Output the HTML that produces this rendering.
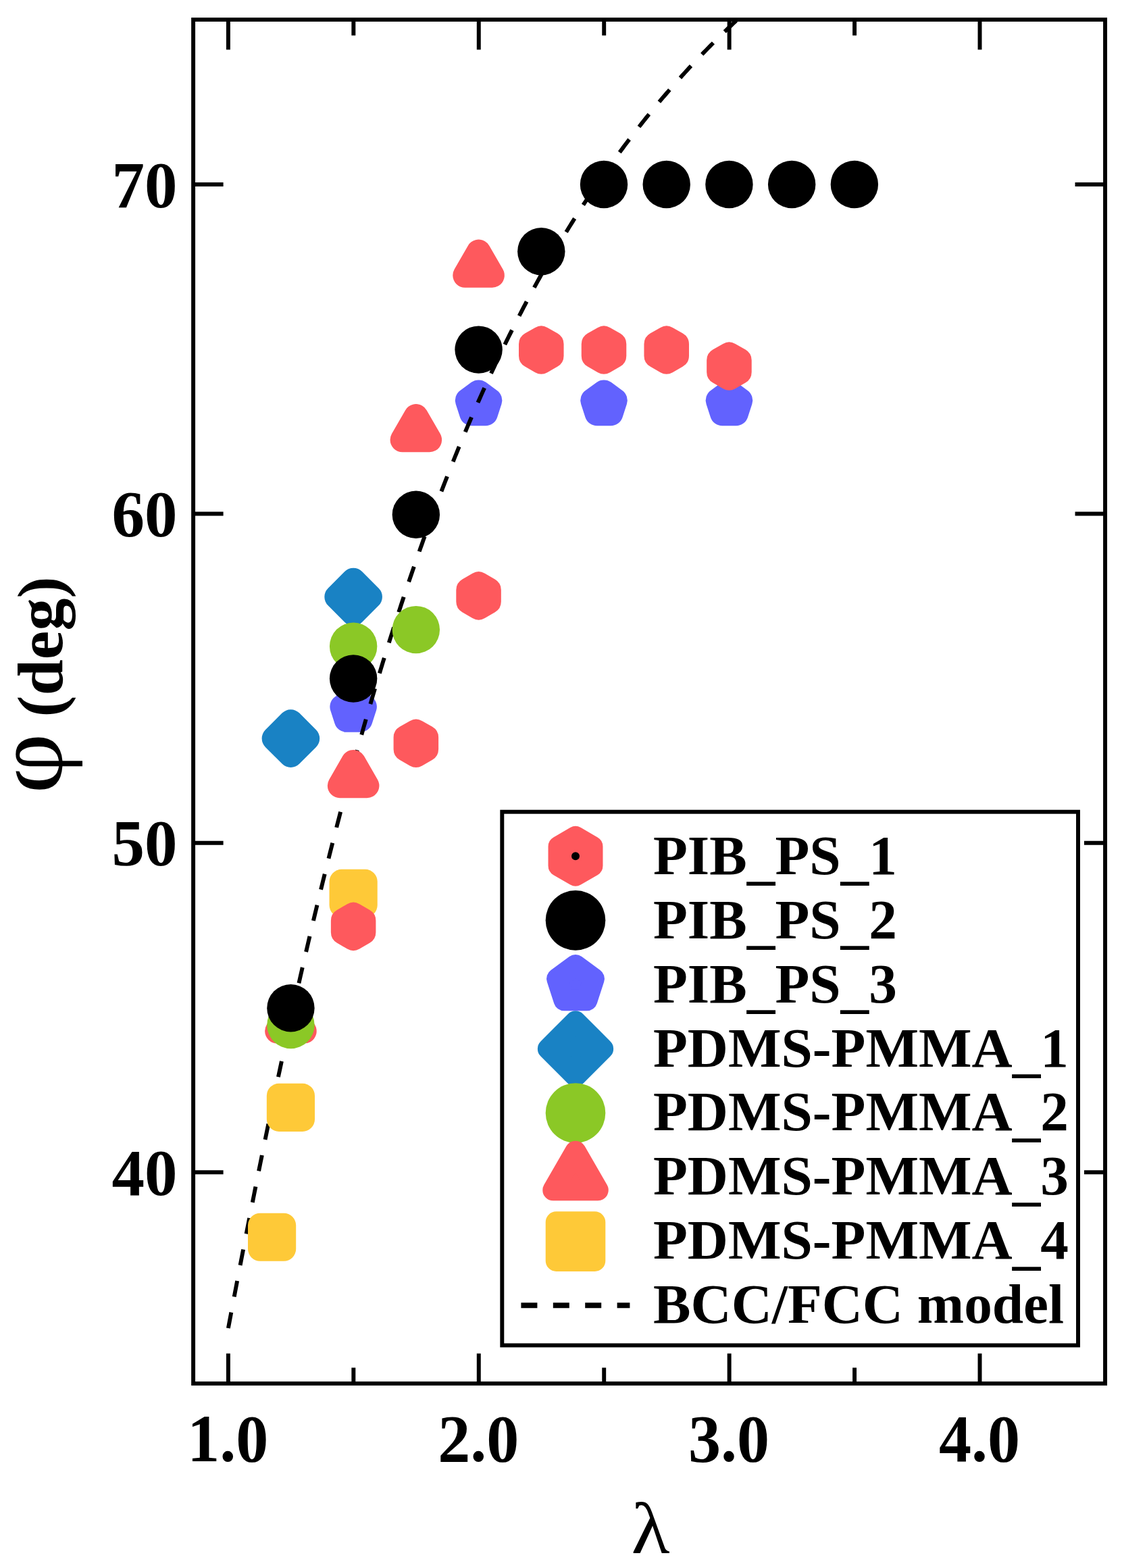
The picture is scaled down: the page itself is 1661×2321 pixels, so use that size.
<!DOCTYPE html>
<html lang="en">
<head>
<meta charset="utf-8">
<title>φ (deg) versus λ</title>
<style>
html,body{margin:0;padding:0;background:#fff;}
body{width:1661px;height:2321px;overflow:hidden;}
svg{display:block;}
</style>
</head>
<body>
<svg width="1661" height="2321" viewBox="0 0 1661 2321">
<desc>φ (deg) vs λ — PIB_PS_1, PIB_PS_2, PIB_PS_3, PDMS-PMMA_1, PDMS-PMMA_2, PDMS-PMMA_3, PDMS-PMMA_4, BCC/FCC model</desc>
<rect x="0" y="0" width="1661" height="2321" fill="#ffffff"/>
<defs><clipPath id="plotclip"><rect x="286.10" y="29.05" width="1349.95" height="2018.85"/></clipPath></defs>
<g>
<polygon points="523.13,1034.10 539.68,1046.12 533.36,1065.58 512.91,1065.58 506.59,1046.12" fill="#6262fe" stroke="#6262fe" stroke-width="36.40" stroke-linejoin="round"/>
<polygon points="708.57,580.60 725.12,592.62 718.80,612.08 698.34,612.08 692.02,592.62" fill="#6262fe" stroke="#6262fe" stroke-width="36.40" stroke-linejoin="round"/>
<polygon points="894.00,580.60 910.55,592.62 904.23,612.08 883.78,612.08 877.46,592.62" fill="#6262fe" stroke="#6262fe" stroke-width="36.40" stroke-linejoin="round"/>
<polygon points="1079.44,580.60 1095.99,592.62 1089.67,612.08 1069.21,612.08 1062.89,592.62" fill="#6262fe" stroke="#6262fe" stroke-width="36.40" stroke-linejoin="round"/>
</g>
<path d="M337.90 1966.01 L339.81 1955.86 L341.72 1945.73 L343.63 1935.62 L345.54 1925.55 L347.45 1915.50 L349.36 1905.48 L351.27 1895.49 L353.18 1885.52 L355.09 1875.59 L357.00 1865.68 L358.91 1855.80 L360.82 1845.96 L362.73 1836.14 L364.64 1826.35 L366.55 1816.59 L368.46 1806.86 L370.37 1797.17 L372.28 1787.50 L374.19 1777.87 L376.10 1768.26 L378.01 1758.69 L379.92 1749.15 L381.83 1739.64 L383.74 1730.17 L385.65 1720.72 L387.56 1711.31 L389.47 1701.93 L391.38 1692.59 L393.29 1683.27 L395.20 1673.99 L397.11 1664.75 L399.02 1655.53 L400.93 1646.36 L402.84 1637.21 L404.75 1628.10 L406.66 1619.02 L408.57 1609.97 L410.48 1600.96 L412.39 1591.99 L414.30 1583.05 L416.21 1574.14 L418.12 1565.26 L420.03 1556.43 L421.94 1547.62 L423.85 1538.85 L425.76 1530.12 L427.67 1521.42 L429.58 1512.75 L431.49 1504.12 L433.40 1495.53 L435.31 1486.97 L437.22 1478.44 L439.13 1469.95 L441.04 1461.50 L442.95 1453.08 L444.86 1444.69 L446.77 1436.34 L448.68 1428.03 L450.59 1419.75 L452.50 1411.51 L454.41 1403.30 L456.32 1395.12 L458.23 1386.98 L460.14 1378.88 L462.05 1370.81 L463.96 1362.78 L465.87 1354.78 L467.78 1346.82 L469.69 1338.89 L471.60 1330.99 L473.51 1323.14 L475.42 1315.31 L477.33 1307.52 L479.24 1299.77 L481.15 1292.05 L483.06 1284.37 L484.97 1276.72 L486.88 1269.10 L488.79 1261.52 L490.70 1253.97 L492.61 1246.46 L494.52 1238.99 L496.43 1231.54 L498.34 1224.13 L500.25 1216.76 L502.16 1209.42 L504.07 1202.11 L505.98 1194.84 L507.89 1187.60 L509.80 1180.40 L511.71 1173.23 L513.62 1166.09 L515.53 1158.98 L517.44 1151.91 L519.35 1144.88 L521.26 1137.87 L523.17 1130.90 L525.08 1123.96 L526.99 1117.06 L528.90 1110.18 L530.81 1103.34 L532.72 1096.54 L534.63 1089.76 L536.54 1083.02 L538.45 1076.31 L540.36 1069.63 L542.27 1062.99 L544.18 1056.38 L546.09 1049.79 L548.00 1043.24 L549.91 1036.73 L551.82 1030.24 L553.73 1023.78 L555.64 1017.36 L557.55 1010.97 L559.46 1004.61 L561.37 998.28 L563.28 991.98 L565.19 985.71 L567.10 979.47 L569.01 973.26 L570.92 967.08 L572.83 960.94 L574.74 954.82 L576.65 948.73 L578.56 942.67 L580.47 936.64 L582.38 930.65 L584.29 924.68 L586.20 918.74 L588.11 912.83 L590.02 906.95 L591.93 901.09 L593.84 895.27 L595.75 889.48 L597.66 883.71 L599.57 877.97 L601.48 872.26 L603.39 866.58 L605.30 860.93 L607.21 855.30 L609.12 849.71 L611.03 844.14 L612.94 838.59 L614.85 833.08 L616.76 827.59 L618.67 822.13 L620.58 816.70 L622.49 811.29 L624.40 805.91 L626.31 800.56 L628.22 795.23 L630.13 789.93 L632.04 784.66 L633.95 779.41 L635.86 774.19 L637.77 768.99 L639.68 763.82 L641.59 758.68 L643.50 753.56 L645.41 748.46 L647.32 743.39 L649.23 738.35 L651.14 733.33 L653.05 728.34 L654.96 723.37 L656.87 718.42 L658.78 713.50 L660.69 708.60 L662.60 703.73 L664.51 698.88 L666.42 694.06 L668.33 689.26 L670.24 684.48 L672.15 679.73 L674.06 675.00 L675.97 670.30 L677.88 665.61 L679.79 660.95 L681.70 656.32 L683.61 651.70 L685.52 647.11 L687.43 642.54 L689.34 637.99 L691.25 633.47 L693.16 628.97 L695.07 624.49 L696.98 620.03 L698.89 615.59 L700.80 611.18 L702.71 606.79 L704.62 602.41 L706.53 598.06 L708.44 593.73 L710.35 589.43 L712.26 585.14 L714.17 580.87 L716.08 576.63 L717.99 572.41 L719.90 568.20 L721.81 564.02 L723.72 559.86 L725.63 555.71 L727.54 551.59 L729.45 547.49 L731.36 543.40 L733.27 539.34 L735.18 535.30 L737.09 531.27 L739.00 527.27 L740.91 523.28 L742.82 519.32 L744.73 515.37 L746.64 511.44 L748.55 507.53 L750.46 503.64 L752.37 499.77 L754.28 495.92 L756.19 492.09 L758.10 488.27 L760.01 484.47 L761.92 480.69 L763.83 476.93 L765.74 473.19 L767.65 469.46 L769.56 465.75 L771.47 462.06 L773.38 458.39 L775.29 454.74 L777.20 451.10 L779.11 447.48 L781.02 443.87 L782.93 440.29 L784.84 436.72 L786.75 433.17 L788.66 429.63 L790.57 426.11 L792.48 422.61 L794.39 419.12 L796.30 415.65 L798.21 412.20 L800.12 408.76 L802.03 405.34 L803.94 401.94 L805.85 398.55 L807.76 395.17 L809.67 391.82 L811.58 388.47 L813.49 385.15 L815.40 381.84 L817.31 378.54 L819.22 375.26 L821.13 372.00 L823.04 368.75 L824.95 365.51 L826.86 362.29 L828.76 359.09 L830.67 355.90 L832.58 352.72 L834.49 349.56 L836.40 346.42 L838.31 343.28 L840.22 340.17 L842.13 337.06 L844.04 333.97 L845.95 330.90 L847.86 327.84 L849.77 324.79 L851.68 321.76 L853.59 318.74 L855.50 315.74 L857.41 312.74 L859.32 309.77 L861.23 306.80 L863.14 303.85 L865.05 300.91 L866.96 297.99 L868.87 295.08 L870.78 292.18 L872.69 289.29 L874.60 286.42 L876.51 283.56 L878.42 280.72 L880.33 277.88 L882.24 275.06 L884.15 272.25 L886.06 269.46 L887.97 266.68 L889.88 263.91 L891.79 261.15 L893.70 258.40 L895.61 255.67 L897.52 252.94 L899.43 250.23 L901.34 247.54 L903.25 244.85 L905.16 242.18 L907.07 239.51 L908.98 236.86 L910.89 234.22 L912.80 231.60 L914.71 228.98 L916.62 226.38 L918.53 223.78 L920.44 221.20 L922.35 218.63 L924.26 216.07 L926.17 213.53 L928.08 210.99 L929.99 208.46 L931.90 205.95 L933.81 203.44 L935.72 200.95 L937.63 198.47 L939.54 196.00 L941.45 193.54 L943.36 191.09 L945.27 188.65 L947.18 186.22 L949.09 183.80 L951.00 181.39 L952.91 178.99 L954.82 176.60 L956.73 174.22 L958.64 171.86 L960.55 169.50 L962.46 167.15 L964.37 164.81 L966.28 162.49 L968.19 160.17 L970.10 157.86 L972.01 155.56 L973.92 153.27 L975.83 150.99 L977.74 148.72 L979.65 146.46 L981.56 144.21 L983.47 141.97 L985.38 139.74 L987.29 137.52 L989.20 135.31 L991.11 133.10 L993.02 130.91 L994.93 128.72 L996.84 126.55 L998.75 124.38 L1000.66 122.22 L1002.57 120.07 L1004.48 117.93 L1006.39 115.80 L1008.30 113.68 L1010.21 111.56 L1012.12 109.46 L1014.03 107.36 L1015.94 105.27 L1017.85 103.20 L1019.76 101.12 L1021.67 99.06 L1023.58 97.01 L1025.49 94.96 L1027.40 92.93 L1029.31 90.90 L1031.22 88.88 L1033.13 86.86 L1035.04 84.86 L1036.95 82.86 L1038.86 80.87 L1040.77 78.89 L1042.68 76.92 L1044.59 74.96 L1046.50 73.00 L1048.41 71.05 L1050.32 69.11 L1052.23 67.18 L1054.14 65.25 L1056.05 63.34 L1057.96 61.43 L1059.87 59.52 L1061.78 57.63 L1063.69 55.74 L1065.60 53.86 L1067.51 51.99 L1069.42 50.13 L1071.33 48.27 L1073.24 46.42 L1075.15 44.58 L1077.06 42.74 L1078.97 40.91 L1080.88 39.09 L1082.79 37.28 L1084.70 35.47 L1086.61 33.67 L1088.52 31.88 L1090.43 30.09 L1092.34 28.31 L1094.25 26.54 L1096.16 24.78 L1098.07 23.02 L1099.98 21.27 L1101.89 19.52" fill="none" stroke="#000" stroke-width="5.9" stroke-dasharray="23.8 23.6" clip-path="url(#plotclip)"/>
<g>
<polygon points="385.20,1813.85 420.00,1813.85 420.00,1848.65 385.20,1848.65" fill="#fec938" stroke="#fec938" stroke-width="36.40" stroke-linejoin="round"/>
<polygon points="413.02,1621.95 447.82,1621.95 447.82,1656.75 413.02,1656.75" fill="#fec938" stroke="#fec938" stroke-width="36.40" stroke-linejoin="round"/>
<polygon points="505.74,1305.00 540.53,1305.00 540.53,1339.80 505.74,1339.80" fill="#fec938" stroke="#fec938" stroke-width="36.40" stroke-linejoin="round"/>
</g>
<g>
<polygon points="430.42,1068.49 455.02,1093.10 430.42,1117.71 405.81,1093.10" fill="#1982c4" stroke="#1982c4" stroke-width="36.40" stroke-linejoin="round"/>
<polygon points="523.13,858.89 547.74,883.50 523.13,908.11 498.53,883.50" fill="#1982c4" stroke="#1982c4" stroke-width="36.40" stroke-linejoin="round"/>
</g>
<g>
<polygon points="430.42,1491.60 450.51,1526.40 410.33,1526.40" fill="#fe595d" stroke="#fe595d" stroke-width="36.40" stroke-linejoin="round"/>
<polygon points="523.13,1128.20 543.23,1163.00 503.04,1163.00" fill="#fe595d" stroke="#fe595d" stroke-width="36.40" stroke-linejoin="round"/>
<polygon points="615.85,616.30 635.94,651.10 595.76,651.10" fill="#fe595d" stroke="#fe595d" stroke-width="36.40" stroke-linejoin="round"/>
<polygon points="708.57,372.80 728.66,407.60 688.48,407.60" fill="#fe595d" stroke="#fe595d" stroke-width="36.40" stroke-linejoin="round"/>
</g>
<g>
<polygon points="523.13,1353.95 538.20,1362.65 538.20,1380.05 523.13,1388.75 508.07,1380.05 508.07,1362.65" fill="#fe595d" stroke="#fe595d" stroke-width="36.40" stroke-linejoin="round"/>
<polygon points="615.85,1082.90 630.92,1091.60 630.92,1109.00 615.85,1117.70 600.78,1109.00 600.78,1091.60" fill="#fe595d" stroke="#fe595d" stroke-width="36.40" stroke-linejoin="round"/>
<polygon points="708.57,864.50 723.64,873.20 723.64,890.60 708.57,899.30 693.50,890.60 693.50,873.20" fill="#fe595d" stroke="#fe595d" stroke-width="36.40" stroke-linejoin="round"/>
<polygon points="801.29,500.65 816.36,509.35 816.36,526.75 801.29,535.45 786.22,526.75 786.22,509.35" fill="#fe595d" stroke="#fe595d" stroke-width="36.40" stroke-linejoin="round"/>
<polygon points="894.00,500.65 909.07,509.35 909.07,526.75 894.00,535.45 878.94,526.75 878.94,509.35" fill="#fe595d" stroke="#fe595d" stroke-width="36.40" stroke-linejoin="round"/>
<polygon points="986.72,500.65 1001.79,509.35 1001.79,526.75 986.72,535.45 971.65,526.75 971.65,509.35" fill="#fe595d" stroke="#fe595d" stroke-width="36.40" stroke-linejoin="round"/>
<polygon points="1079.44,524.65 1094.51,533.35 1094.51,550.75 1079.44,559.45 1064.37,550.75 1064.37,533.35" fill="#fe595d" stroke="#fe595d" stroke-width="36.40" stroke-linejoin="round"/>
</g>
<g>
<circle cx="430.42" cy="1517.10" r="35.20" fill="#8bc826"/>
<circle cx="523.13" cy="956.70" r="35.20" fill="#8bc826"/>
<circle cx="615.85" cy="932.10" r="35.20" fill="#8bc826"/>
</g>
<g>
<circle cx="430.42" cy="1492.20" r="35.20" fill="#000000"/>
<circle cx="523.13" cy="1004.50" r="35.20" fill="#000000"/>
<circle cx="615.85" cy="761.80" r="35.20" fill="#000000"/>
<circle cx="708.57" cy="517.60" r="35.20" fill="#000000"/>
<circle cx="801.29" cy="372.20" r="35.20" fill="#000000"/>
<circle cx="894.00" cy="273.00" r="35.20" fill="#000000"/>
<circle cx="986.72" cy="273.00" r="35.20" fill="#000000"/>
<circle cx="1079.44" cy="273.00" r="35.20" fill="#000000"/>
<circle cx="1172.16" cy="273.00" r="35.20" fill="#000000"/>
<circle cx="1264.87" cy="273.00" r="35.20" fill="#000000"/>
</g>
<rect x="286.10" y="29.05" width="1349.95" height="2018.85" fill="none" stroke="#000" stroke-width="5.95"/>
<path d="M337.90 2047.90 v-44.50 M337.90 29.05 v44.50 M523.34 2047.90 v-23.50 M523.34 29.05 v23.50 M708.77 2047.90 v-44.50 M708.77 29.05 v44.50 M894.21 2047.90 v-23.50 M894.21 29.05 v23.50 M1079.64 2047.90 v-44.50 M1079.64 29.05 v44.50 M1265.07 2047.90 v-23.50 M1265.07 29.05 v23.50 M1450.51 2047.90 v-44.50 M1450.51 29.05 v44.50 M286.10 1735.20 h44.50 M1636.05 1735.20 h-44.50 M286.10 1247.80 h44.50 M1636.05 1247.80 h-44.50 M286.10 760.40 h44.50 M1636.05 760.40 h-44.50 M286.10 273.00 h44.50 M1636.05 273.00 h-44.50" fill="none" stroke="#000" stroke-width="5.95"/>
<g font-family="'Liberation Serif', serif" font-weight="bold" font-size="97" fill="#000">
<text x="0" y="0" text-anchor="middle" transform="translate(337.30 2163.4) scale(0.99 1.02)">1.0</text>
<text x="0" y="0" text-anchor="middle" transform="translate(708.17 2163.4) scale(0.99 1.02)">2.0</text>
<text x="0" y="0" text-anchor="middle" transform="translate(1079.04 2163.4) scale(0.99 1.02)">3.0</text>
<text x="0" y="0" text-anchor="middle" transform="translate(1449.91 2163.4) scale(0.99 1.02)">4.0</text>
<text x="262.5" y="1768.70" text-anchor="end">40</text>
<text x="262.5" y="1281.30" text-anchor="end">50</text>
<text x="262.5" y="793.90" text-anchor="end">60</text>
<text x="262.5" y="306.50" text-anchor="end">70</text>
</g>
<text x="0" y="0" text-anchor="middle" font-family="'Liberation Serif', serif" font-size="107" fill="#000" transform="translate(963.0 2298.9) scale(1.1 1)">λ</text>
<text x="0" y="0" font-family="'Liberation Serif', serif" font-size="143" fill="#000" transform="translate(91.3 1174.8) rotate(-90) scale(1.08 1)">φ</text>
<text x="0" y="0" font-family="'Liberation Serif', serif" font-weight="bold" font-size="96" fill="#000" transform="translate(92 1061.5) rotate(-90)">(deg)</text>
<rect x="734.30" y="1192.70" width="870.70" height="807.70" fill="#fff"/>
<rect x="743.30" y="1201.70" width="852.70" height="789.70" fill="#fff" stroke="#000" stroke-width="5.95"/>
<polygon points="852.00,1238.70 876.77,1253.00 876.77,1281.60 852.00,1295.90 827.23,1281.60 827.23,1253.00" fill="#fe595d" stroke="#fe595d" stroke-width="31.40" stroke-linejoin="round"/>
<circle cx="852.00" cy="1267.30" r="6" fill="#000"/>
<circle cx="852.00" cy="1362.36" r="44.30" fill="#000000"/>
<polygon points="852.00,1428.82 879.20,1448.58 868.81,1480.56 835.19,1480.56 824.80,1448.58" fill="#6262fe" stroke="#6262fe" stroke-width="31.40" stroke-linejoin="round"/>
<polygon points="852.00,1512.03 892.45,1552.48 852.00,1592.93 811.55,1552.48" fill="#1982c4" stroke="#1982c4" stroke-width="31.40" stroke-linejoin="round"/>
<circle cx="852.00" cy="1647.54" r="44.30" fill="#8bc826"/>
<polygon points="852.00,1704.47 885.02,1761.67 818.98,1761.67" fill="#fe595d" stroke="#fe595d" stroke-width="31.40" stroke-linejoin="round"/>
<polygon points="823.40,1809.06 880.60,1809.06 880.60,1866.26 823.40,1866.26" fill="#fec938" stroke="#fec938" stroke-width="31.40" stroke-linejoin="round"/>
<path d="M771.4 1932.22 H932.4" fill="none" stroke="#000" stroke-width="8" stroke-dasharray="24 23.4"/>
<g font-family="'Liberation Serif', serif" font-weight="bold" font-size="83.25" fill="#000">
<text x="967" y="1293.60">PIB<tspan dy="5.8">_</tspan><tspan dy="-5.8">PS</tspan><tspan dy="5.8">_</tspan><tspan dy="-5.8">1</tspan></text>
<text x="967" y="1388.57">PIB<tspan dy="5.8">_</tspan><tspan dy="-5.8">PS</tspan><tspan dy="5.8">_</tspan><tspan dy="-5.8">2</tspan></text>
<text x="967" y="1483.54">PIB<tspan dy="5.8">_</tspan><tspan dy="-5.8">PS</tspan><tspan dy="5.8">_</tspan><tspan dy="-5.8">3</tspan></text>
<text x="967" y="1578.51">PDMS-PMMA<tspan dy="5.8">_</tspan><tspan dy="-5.8">1</tspan></text>
<text x="967" y="1673.48">PDMS-PMMA<tspan dy="5.8">_</tspan><tspan dy="-5.8">2</tspan></text>
<text x="967" y="1768.45">PDMS-PMMA<tspan dy="5.8">_</tspan><tspan dy="-5.8">3</tspan></text>
<text x="967" y="1863.42">PDMS-PMMA<tspan dy="5.8">_</tspan><tspan dy="-5.8">4</tspan></text>
<text x="967" y="1958.39">BCC/FCC model</text>
</g>
</svg>
</body>
</html>
